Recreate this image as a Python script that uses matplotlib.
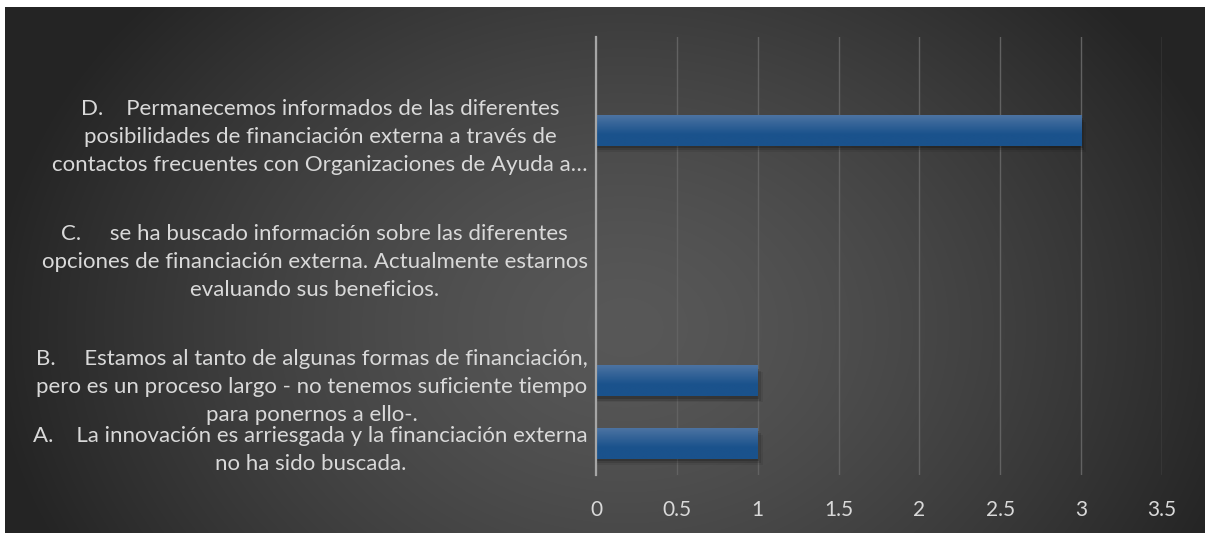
"""
Financiación externa: horizontal bar chart on a dark gradient background.
"""
import matplotlib
matplotlib.use("Agg")
import matplotlib.pyplot as plt
import numpy as np

# categories bottom -> top (blank slots keep the spacing of the original)
categories = [
    "A.    La innovación es arriesgada y la financiación externa\nno ha sido buscada.",
    "B.     Estamos al tanto de algunas formas de financiación,\npero es un proceso largo - no tenemos suficiente tiempo\npara ponernos a ello-.",
    "",
    "C.     se ha buscado información sobre las diferentes\nopciones de financiación externa. Actualmente estarnos\nevaluando sus beneficios.",
    "",
    "D.    Permanecemos informados de las diferentes\nposibilidades de financiación externa a través de\ncontactos frecuentes con Organizaciones de Ayuda a…",
    "",
]
values = [1, 1, 0, 0, 0, 3, 0]
x_ticks = [0, 0.5, 1, 1.5, 2, 2.5, 3, 3.5]

TEXT = "#d9d9d9"
plt.rcParams["font.family"] = ["Lato", "DejaVu Sans"]

W, H = 1205, 533
fig = plt.figure(figsize=(W / 100, H / 100), dpi=100)
fig.patch.set_facecolor("white")

# background gradient (white strip at top and left)
bg = fig.add_axes([5 / W, 0, 1 - 5 / W, (H - 7) / H])
bg.set_axis_off()
yy, xx = np.mgrid[0:526, 0:1200]
r = np.sqrt(((xx - 620) / 640.0) ** 2 + ((yy - 320) / 500.0) ** 2)
r = np.clip(r, 0, 1)
g = (0x58 - (0x58 - 0x24) * r ** 1.4) / 255.0
bg.imshow(np.dstack([g, g, g]), aspect="auto", interpolation="bilinear")

ax = fig.add_axes([596 / W, (H - 475) / H, (1162 - 596) / W, (475 - 37) / H])
ax.patch.set_alpha(0)
y = np.arange(len(categories))
bars = ax.barh(y, values, height=0.48, color="#1f5a94", zorder=3)

# vertical gradient + soft shadow for each bar
grad = np.linspace(0, 1, 50).reshape(-1, 1)
top = np.array([0x4c, 0x73, 0xa2]) / 255.0
bot = np.array([0x1a, 0x52, 0x8c]) / 255.0
cols = top + (bot - top) * np.clip(grad * 1.6, 0, 1)
img = cols.reshape(50, 1, 3)
for b in bars:
    w = b.get_width()
    if w <= 0:
        continue
    y0, h = b.get_y(), b.get_height()
    for k, a in enumerate([0.18, 0.12, 0.07]):
        ax.barh(y0 + h / 2 - 0.04 - 0.03 * k, w + 0.01 * (k + 1), height=h,
                color="black", alpha=a, zorder=2, linewidth=0)
    ax.imshow(img, extent=(0, w, y0, y0 + h), aspect="auto", zorder=4,
              interpolation="bilinear", origin="upper")

ax.set_xlim(0, 3.5)
ax.set_ylim(-0.5, len(categories) - 0.5)
ax.set_xticks(x_ticks)
ax.set_xticklabels([f"{t:g}" for t in x_ticks], color=TEXT, fontsize=15)
ax.set_yticks(y)
ax.set_yticklabels(categories, color=TEXT, fontsize=16, linespacing=1.5)
for lbl in ax.get_yticklabels():
    lbl.set_multialignment("center")
ax.tick_params(axis="both", length=0)
ax.tick_params(axis="x", pad=18)
ax.tick_params(axis="y", pad=6)
ax.grid(axis="x", color="#626262", linewidth=1, zorder=1)
for s in ["top", "right", "bottom"]:
    ax.spines[s].set_visible(False)
ax.spines["left"].set_color("#a6a6a6")
ax.spines["left"].set_linewidth(1.6)
ax.spines["left"].set_zorder(5)

fig.savefig("out.png", dpi=100, facecolor=fig.get_facecolor())
